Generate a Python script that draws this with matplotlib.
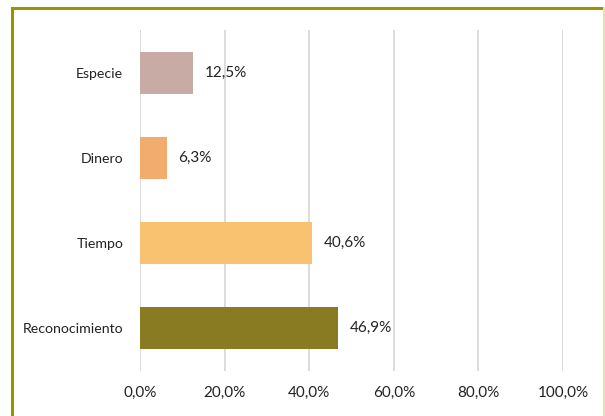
import matplotlib
matplotlib.use("Agg")
import matplotlib.pyplot as plt
from matplotlib.lines import Line2D

categories = ["Reconocimiento", "Tiempo", "Dinero", "Especie"]
values = [46.9, 40.6, 6.3, 12.5]
colors = ["#887B22", "#F9C270", "#F2AD6E", "#C9ABA5"]
xticks = [0, 20, 40, 60, 80, 100]
xticklabels = ["0,0%", "20,0%", "40,0%", "60,0%", "80,0%", "100,0%"]

plt.rcParams['font.family'] = ['Lato', 'DejaVu Sans']

fig = plt.figure(figsize=(6.05, 4.16), dpi=100)
ax = fig.add_axes([140/605, 1-371/416, (563-140)/605, (371-30)/416])

ypos = list(range(len(categories)))
ax.barh(ypos, values, height=0.49, color=colors, zorder=3)
for y, v in zip(ypos, values):
    ax.annotate(f"{v:.1f}%".replace(".", ","), xy=(v, y), xytext=(8.5, 0),
                textcoords="offset points", va="center", ha="left",
                fontsize=11, color="#222222")

ax.set_xlim(0, 100)
ax.set_ylim(-0.5, 3.5)
ax.set_xticks(xticks)
ax.set_xticklabels(xticklabels, fontsize=11, color="#222222")
ax.set_yticks(ypos)
ax.set_yticklabels(categories, fontsize=10.2, color="#222222")
ax.tick_params(axis='both', length=0)
ax.tick_params(axis='x', pad=11)
ax.tick_params(axis='y', pad=12)
ax.grid(axis='x', color="#D9D9D9", linewidth=1.3, zorder=0)
for s in ax.spines.values():
    s.set_visible(False)

# figure border
fig.add_artist(Line2D([12/605, 12/605], [0, 1-8/416], transform=fig.transFigure,
                      color="#9A9400", linewidth=2.2))
fig.add_artist(Line2D([12/605, 1], [1-8/416, 1-8/416], transform=fig.transFigure,
                      color="#9A9400", linewidth=2.2))
fig.add_artist(Line2D([604/605, 604/605], [0, 1-8/416], transform=fig.transFigure,
                      color="#E6E2B0", linewidth=1.5))

fig.savefig("out.png", dpi=100)
